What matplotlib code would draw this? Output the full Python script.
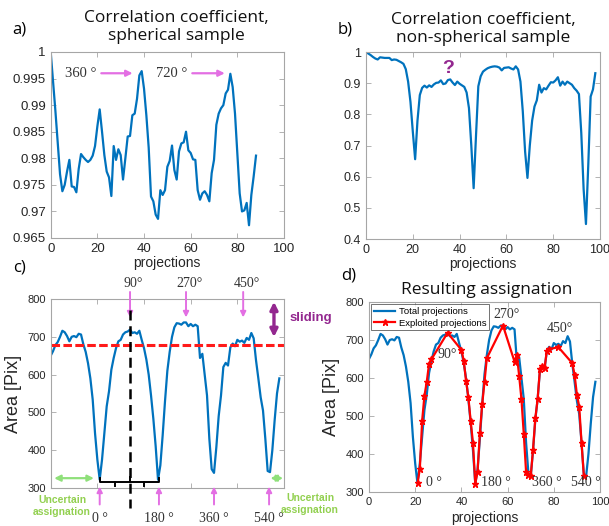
import numpy as np
import matplotlib
matplotlib.use("Agg")
import matplotlib.pyplot as plt
import matplotlib.transforms as mtransforms
from matplotlib.ticker import FuncFormatter

# ---------------- data ----------------
proj_a = list(range(89))
corr_spherical = [
    1.000, 0.9945, 0.989, 0.983, 0.977, 0.9738, 0.9750, 0.9775, 0.9797, 0.9747,
    0.9746, 0.9736, 0.9780, 0.9808, 0.9802, 0.9797, 0.9793, 0.9797, 0.9805, 0.9823,
    0.9860, 0.9892, 0.9850, 0.9806, 0.9775, 0.9764, 0.9729, 0.9823, 0.9797, 0.9817,
    0.9806, 0.9760, 0.9800, 0.9841, 0.9842, 0.9881, 0.9884, 0.9912, 0.9956, 0.9964,
    0.9931, 0.9881, 0.9820, 0.9728, 0.9719, 0.9694, 0.9686, 0.9740, 0.9731, 0.9740,
    0.9784, 0.9795, 0.9824, 0.9778, 0.9760, 0.9813, 0.9828, 0.9830, 0.9850, 0.9815,
    0.9810, 0.9798, 0.9797, 0.9740, 0.9722, 0.9734, 0.9738, 0.9731, 0.9719, 0.9772,
    0.9797, 0.9863, 0.9884, 0.9894, 0.9900, 0.9922, 0.9929, 0.9959, 0.9934, 0.9884,
    0.9809, 0.9734, 0.9700, 0.9702, 0.9716, 0.9674, 0.9731, 0.9766, 0.9805]

proj_b = list(range(99))
corr_nonspherical = [
    1.000, 0.995, 0.990, 0.984, 0.979, 0.976, 0.983, 0.982, 0.981, 0.981,
    0.981, 0.974, 0.976, 0.975, 0.971, 0.967, 0.962, 0.945, 0.905, 0.840,
    0.745, 0.656, 0.780, 0.862, 0.885, 0.892, 0.886, 0.893, 0.888, 0.896,
    0.901, 0.902, 0.909, 0.897, 0.899, 0.910, 0.912, 0.902, 0.894, 0.905,
    0.898, 0.893, 0.888, 0.870, 0.820, 0.700, 0.563, 0.730, 0.890, 0.922,
    0.937, 0.943, 0.948, 0.951, 0.953, 0.954, 0.953, 0.950, 0.941, 0.949,
    0.950, 0.951, 0.947, 0.944, 0.954, 0.944, 0.905, 0.810, 0.680, 0.596,
    0.700, 0.780, 0.825, 0.845, 0.895, 0.870, 0.884, 0.880, 0.892, 0.903,
    0.902, 0.909, 0.919, 0.892, 0.905, 0.895, 0.905, 0.900, 0.895, 0.884,
    0.876, 0.865, 0.740, 0.560, 0.448, 0.640, 0.857, 0.880, 0.932]

proj_area = list(range(99))
area_total = [
    650, 662, 678, 686, 700, 716, 712, 702, 688, 700,
    702, 699, 708, 706, 680, 660, 630, 590, 534, 445,
    375, 322, 375, 445, 516, 556, 613, 644, 670, 688,
    692, 706, 712, 714, 719, 710, 712, 708, 716, 692,
    670, 640, 600, 545, 483, 410, 322, 360, 440, 530,
    610, 660, 700, 725, 736, 735, 732, 738, 738, 728,
    734, 728, 732, 728, 644, 655, 600, 545, 430, 350,
    340, 408, 490, 545, 620, 631, 624, 672, 682, 675,
    692, 687, 690, 684, 697, 692, 710, 696, 638, 590,
    540, 505, 430, 345, 342, 400, 480, 550, 590]

exploited_proj = [21, 22, 23, 24, 25, 26, 27, 34, 40, 41, 42, 43, 44, 45, 46,
                  47, 48, 49, 50, 51, 58, 63, 64, 65, 66, 67, 68, 69, 70, 71,
                  72, 73, 74, 75, 76, 77, 78, 82, 88, 89, 90, 91, 92, 93]
exploited_area = [324, 360, 487, 553, 590, 637, 649, 719, 674, 646, 593, 550, 487, 430, 322,
                  353, 455, 531, 590, 652, 738, 643, 661, 606, 544, 453, 353, 345, 341, 411,
                  494, 544, 624, 632, 626, 672, 676, 681, 639, 608, 556, 525, 430, 343]

angle_top = ["90°", "270°", "450°"]
angle_top_x = [34, 58, 82.5]
angle_bottom = ["0 °", "180 °", "360 °", "540 °"]
angle_bottom_x = [21, 46.4, 70, 93.6]

# ---------------- style ----------------
BLUE = "#0072BD"
PINK = "#e36fe3"
PURPLE = "#93278f"
GREEN = "#92d050"
GREEN_ARR = "#8fe07a"
SPINE = "#a6a6a6"
TICKC = "#262626"
SANS = ["Liberation Sans", "DejaVu Sans"]
SERIF = ["Liberation Serif", "DejaVu Serif"]
TITLEF = ["Open Sans", "DejaVu Sans"]

plt.rcParams["font.family"] = SANS

W, H = 609, 526
fig = plt.figure(figsize=(W / 100, H / 100), dpi=100)


def px_axes(l, t, r, b):
    return fig.add_axes([l / W, 1 - b / H, (r - l) / W, (b - t) / H])


def style(ax, fs):
    for s in ax.spines.values():
        s.set_color(SPINE)
        s.set_linewidth(0.8)
    ax.tick_params(direction="in", top=True, right=True, length=3.5,
                   width=0.6, color=SPINE, labelcolor=TICKC, labelsize=fs)


gfmt = FuncFormatter(lambda v, p: ("%g" % round(v, 4)))

# ---------- a ----------
axa = px_axes(50.7, 52, 284, 238)
axa.plot(proj_a, corr_spherical, color=BLUE, lw=1.6)
axa.set_xlim(0, 100)
axa.set_ylim(0.965, 1.0)
axa.set_xticks([0, 20, 40, 60, 80, 100])
axa.set_yticks(np.arange(0.965, 1.0001, 0.005))
axa.yaxis.set_major_formatter(gfmt)
style(axa, 9.5)
axa.set_xlabel("projections", fontsize=10, color=TICKC, labelpad=1)
fig.text(176 / W, 1 - 27 / H, "Correlation coefficient,\nspherical sample",
         ha="center", va="center", fontsize=12.5, family=TITLEF, color="#111111",
         linespacing=1.2)
fig.text(12 / W, 1 - 30 / H, "a)", fontsize=12, ha="left", va="center", family=TITLEF)
axa.text(19.5, 0.996, "360 °", family=SERIF, fontsize=10.5,
         color="#333333", ha="right", va="center")
axa.annotate("", xy=(36.3, 0.996), xytext=(20.5, 0.996),
             arrowprops=dict(arrowstyle="-|>", color=PINK, lw=1.6, mutation_scale=9))
axa.text(58.5, 0.996, "720 °", family=SERIF, fontsize=10.5,
         color="#333333", ha="right", va="center")
axa.annotate("", xy=(75.8, 0.996), xytext=(59.5, 0.996),
             arrowprops=dict(arrowstyle="-|>", color=PINK, lw=1.6, mutation_scale=9))

# ---------- b ----------
axb = px_axes(366, 52, 600, 239)
axb.plot(proj_b, corr_nonspherical, color=BLUE, lw=1.6)
axb.set_xlim(0, 100)
axb.set_ylim(0.4, 1.0)
axb.set_xticks([0, 20, 40, 60, 80, 100])
axb.set_yticks(np.arange(0.4, 1.0001, 0.1))
axb.yaxis.set_major_formatter(gfmt)
style(axb, 9)
axb.set_xlabel("projections", fontsize=10, color=TICKC, labelpad=1)
fig.text(483 / W, 1 - 29 / H, "Correlation coefficient,\nnon-spherical sample",
         ha="center", va="center", fontsize=12.5, family=TITLEF, color="#111111",
         linespacing=1.2)
fig.text(338 / W, 1 - 30 / H, "b)", fontsize=12, ha="left", va="center", family=TITLEF)
axb.text(35, 0.948, "?", color=PURPLE, fontsize=14, fontweight="bold",
         ha="center", va="center")

# ---------- c ----------
axc = px_axes(50.7, 299, 284, 488)
axc.plot(proj_area, area_total, color=BLUE, lw=1.6)
axc.set_xlim(0, 100)
axc.set_ylim(300, 800)
axc.set_xticks([0, 20, 40, 60, 80, 100])
axc.set_xticklabels([])
axc.set_yticks(range(300, 801, 100))
style(axc, 8)
axc.set_ylabel("Area [Pix]", fontsize=13, color=TICKC, labelpad=4)
fig.text(13 / W, 1 - 268 / H, "c)", fontsize=12, ha="left", va="center", family=TITLEF)
axc.axhline(678, color="#ff1a1a", lw=2.2, dashes=(2.8, 1.1))
axc.plot([34, 34], [771, 247], color="black", lw=1.8, dashes=(4, 2.3), clip_on=False, zorder=5)
# bracket
axc.plot([21, 21, 46.4, 46.4], [326, 316, 316, 326], color="black", lw=1.4, zorder=4)
for bx in (27.6, 40.2):
    axc.plot([bx, bx], [316, 306], color="black", lw=1.4, zorder=4)
axc.plot([34, 34], [316, 328], color="black", lw=1.4, zorder=4)
# top labels / arrows
for lab, xx in zip(angle_top, angle_top_x):
    axc.text(xx + 1.5, 842, lab, family=SERIF, fontsize=10, ha="center", va="center",
             color="#333333", clip_on=False)
    axc.annotate("", xy=(xx, 744), xytext=(xx, 826),
                 arrowprops=dict(arrowstyle="-|>", color=PINK, lw=1.4, mutation_scale=8),
                 annotation_clip=False)
# bottom labels / arrows
btrans = mtransforms.blended_transform_factory(axc.transData, fig.transFigure)
for lab, xx in zip(angle_bottom, angle_bottom_x):
    axc.annotate("", xy=(xx, 311), xytext=(xx, 249),
                 arrowprops=dict(arrowstyle="-|>", color=PINK, lw=1.4, mutation_scale=8),
                 annotation_clip=False)
    axc.text(xx, 1 - 518 / H, lab, family=SERIF, fontsize=10, ha="center", va="center",
             color="#333333", transform=btrans, clip_on=False)
# sliding
axc.annotate("", xy=(95.7, 800), xytext=(95.7, 692),
             arrowprops=dict(arrowstyle="<|-|>", color=PURPLE, lw=2.4, mutation_scale=11),
             annotation_clip=False)
axc.text(102.5, 750, "sliding", color=PURPLE, fontsize=9.5, fontweight="bold",
         ha="left", va="center", clip_on=False)
# uncertain
axc.annotate("", xy=(0.3, 326), xytext=(19.7, 326),
             arrowprops=dict(arrowstyle="<|-|>", color=GREEN_ARR, lw=1.6, mutation_scale=9),
             annotation_clip=False)
axc.annotate("", xy=(93, 326), xytext=(100.8, 326),
             arrowprops=dict(arrowstyle="<|-|>", color=GREEN_ARR, lw=1.6, mutation_scale=9),
             annotation_clip=False)
fig.text(62 / W, 1 - 506 / H, "Uncertain\nassignation", color=GREEN, fontsize=7.5,
         fontweight="bold", ha="center", va="center", linespacing=1.35)
fig.text(310 / W, 1 - 504 / H, "Uncertain\nassignation", color=GREEN, fontsize=7.5,
         fontweight="bold", ha="center", va="center", linespacing=1.35)

# ---------- d ----------
axd = px_axes(369, 302, 600, 492)
axd.plot(proj_area, area_total, color=BLUE, lw=1.6, label="Total projections")
axd.plot(exploited_proj, exploited_area, color="#ff0000", lw=1.6, marker="*",
         ms=4.5, label="Exploited projections")
axd.set_xlim(0, 100)
axd.set_ylim(300, 800)
axd.set_xticks([0, 20, 40, 60, 80, 100])
axd.set_yticks(range(300, 801, 100))
style(axd, 8)
axd.set_ylabel("Area [Pix]", fontsize=13, color=TICKC, labelpad=4)
axd.set_xlabel("projections", fontsize=10, color=TICKC, labelpad=3)
fig.text(487 / W, 1 - 290 / H, "Resulting assignation", ha="center", va="center",
         fontsize=12.5, family=TITLEF, color="#111111")
fig.text(341 / W, 1 - 275 / H, "d)", fontsize=12, ha="left", va="center", family=TITLEF)
leg = axd.legend(loc="upper left", fontsize=6.8, frameon=True, fancybox=False,
                 borderpad=0.3, handlelength=2.2, labelspacing=0.25,
                 borderaxespad=0.25, handletextpad=0.4)
leg.get_frame().set_edgecolor("#333333")
leg.get_frame().set_linewidth(0.6)
for lab, (xx, yy) in zip(["90°", "270°", "450°", "0 °", "180 °", "360 °", "540 °"],
                         [(33.8, 663), (59.5, 766), (82.5, 731), (28, 324), (54.8, 324),
                          (77, 324), (94, 324)]):
    axd.text(xx, yy, lab, family=SERIF, fontsize=10, ha="center", va="center",
             color="#333333")

fig.savefig("out.png", dpi=100)
